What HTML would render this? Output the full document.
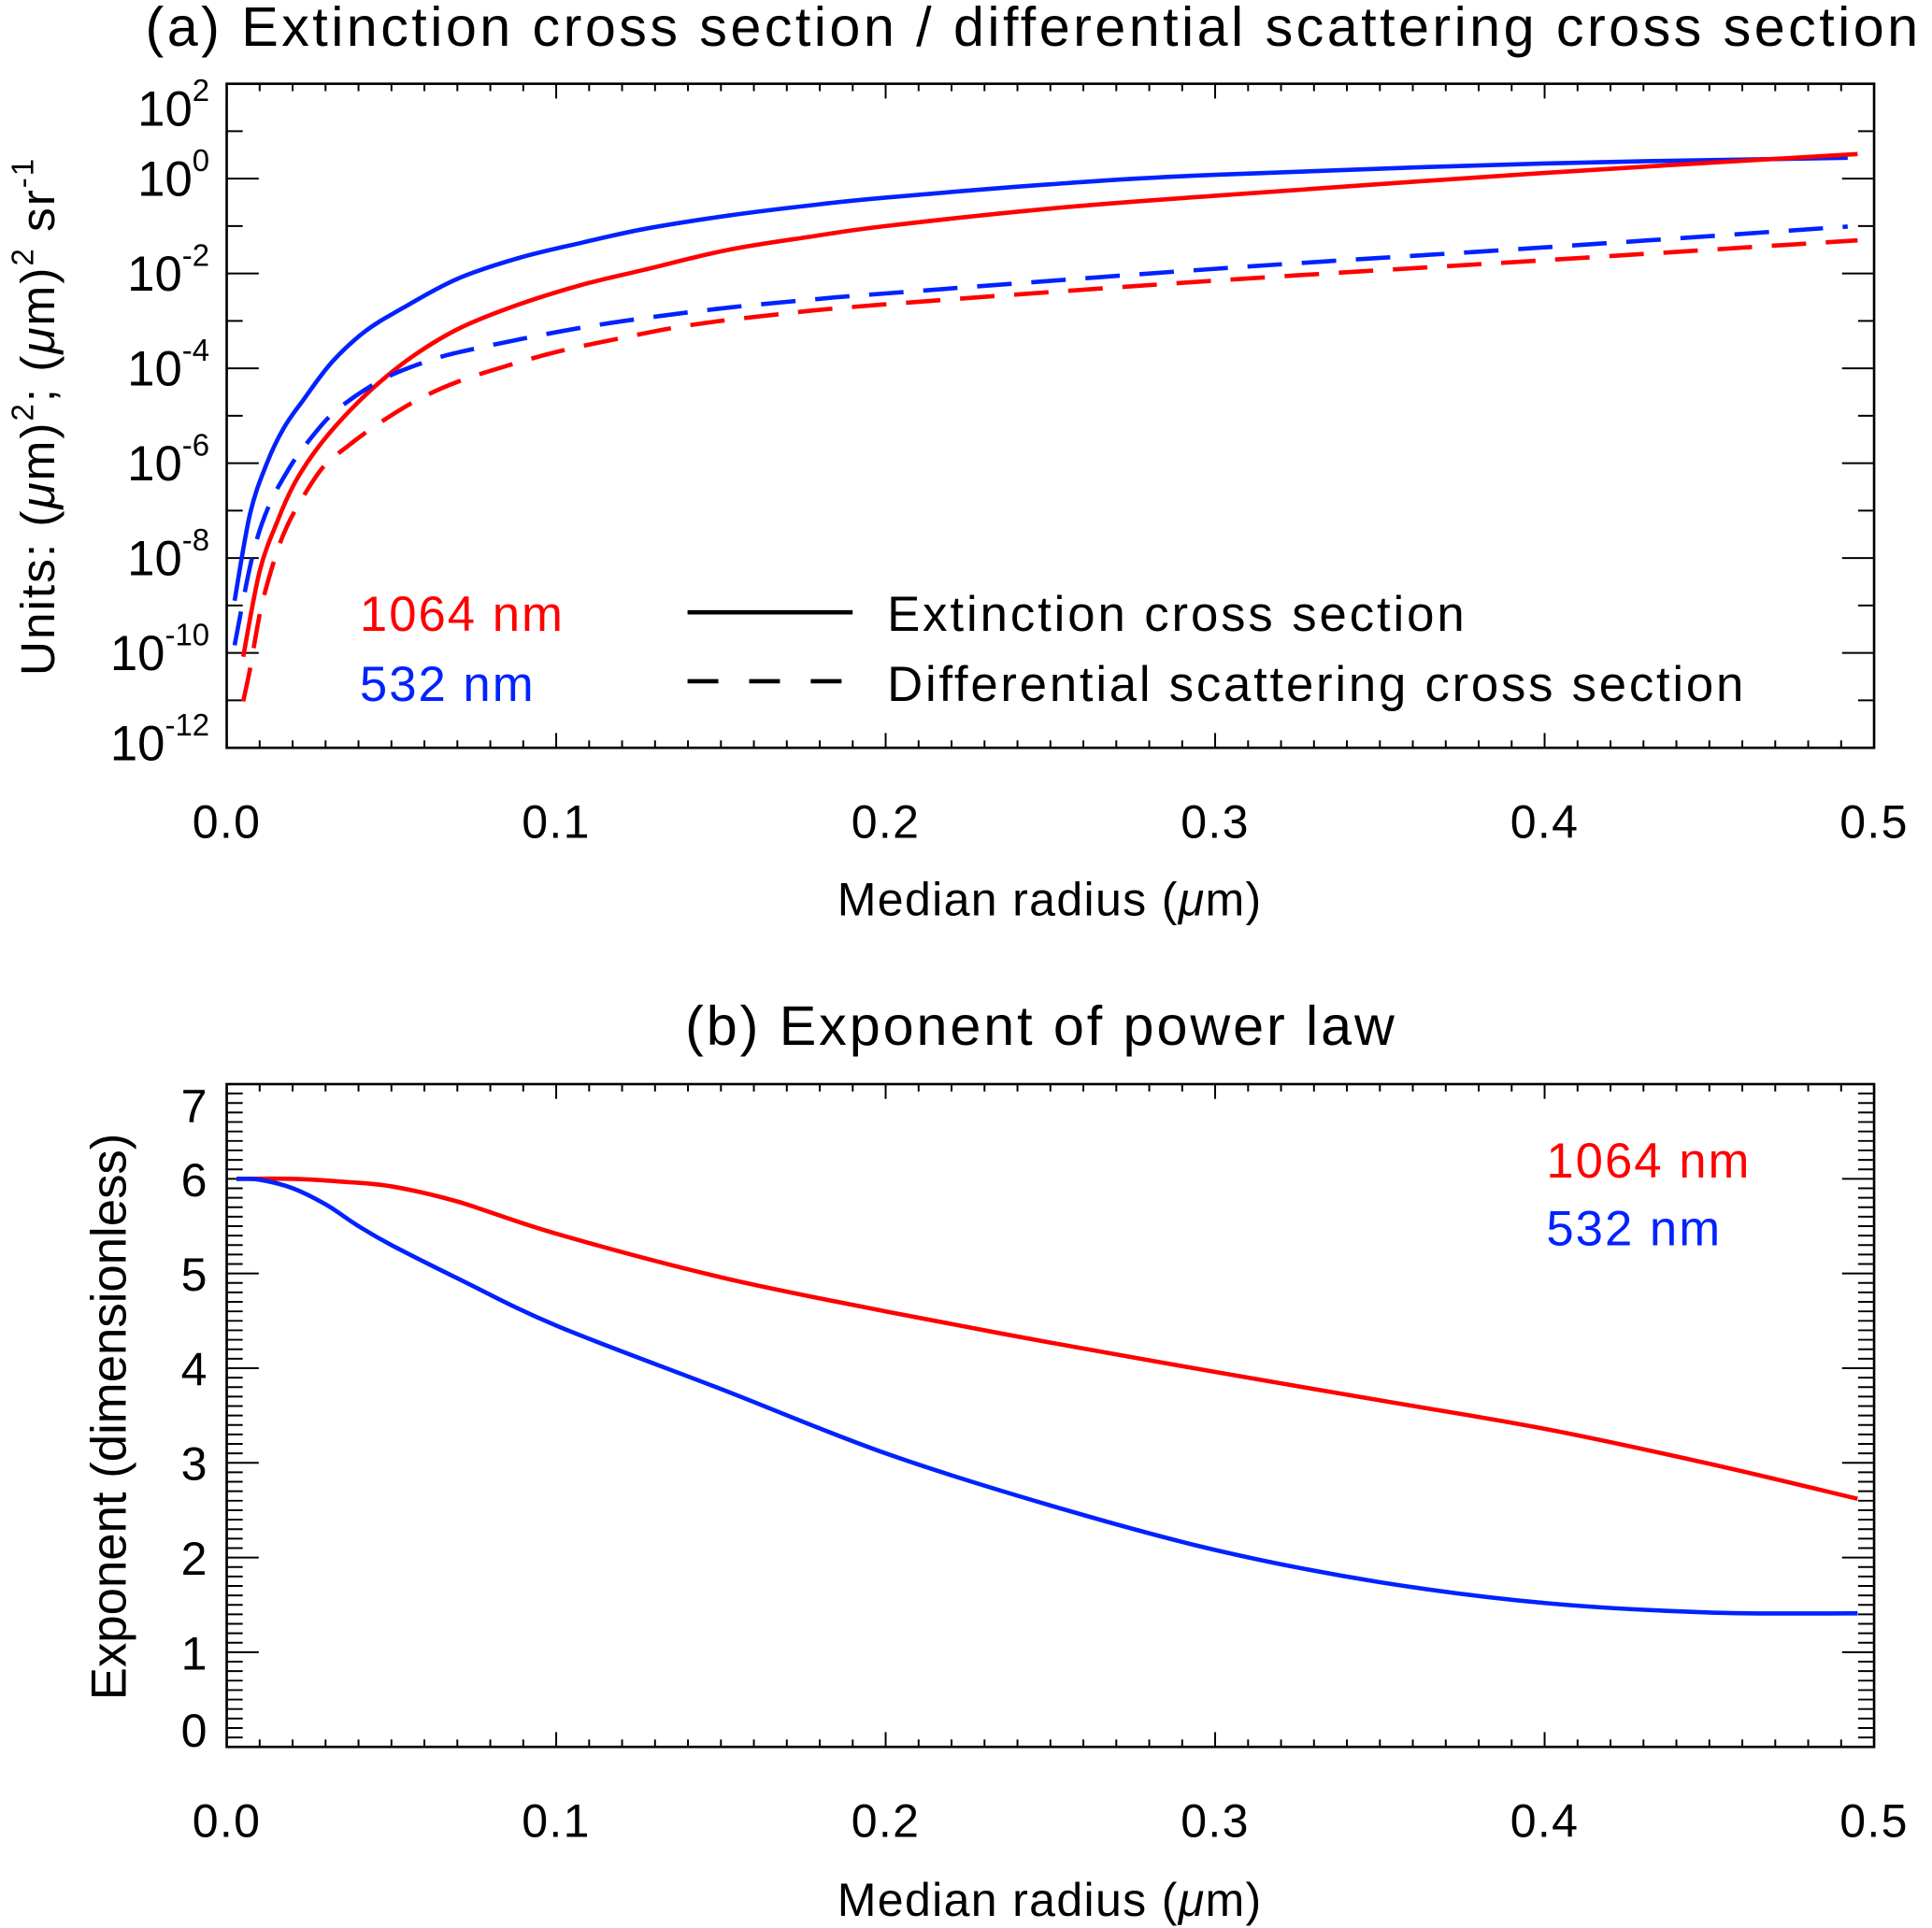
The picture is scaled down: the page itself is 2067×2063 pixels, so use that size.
<!DOCTYPE html>
<html><head><meta charset="utf-8"><style>
html,body{margin:0;padding:0;background:#fff;}
svg{display:block;font-family:"Liberation Sans",Arial,sans-serif;}
</style></head><body>
<svg id="fig" xmlns="http://www.w3.org/2000/svg" width="2067" height="2063" viewBox="0 0 1568 1565" preserveAspectRatio="none">
<text x="118" y="37" font-size="45" letter-spacing="2.6">(a) Extinction cross section / differential scattering cross section</text>
<text x="845" y="848" font-size="45" letter-spacing="2.2" text-anchor="middle">(b) Exponent of power law</text>
<text x="852" y="743" font-size="38" letter-spacing="1" text-anchor="middle">Median radius (<tspan font-style="italic">μ</tspan>m)</text>
<text x="852" y="1555" font-size="38" letter-spacing="1" text-anchor="middle">Median radius (<tspan font-style="italic">μ</tspan>m)</text>
<text transform="translate(44,338) rotate(-90)" font-size="39" letter-spacing="1.5" text-anchor="middle">Units: (<tspan font-style="italic">μ</tspan>m)<tspan font-size="25" dy="-17">2</tspan><tspan dy="17">;  (</tspan><tspan font-style="italic">μ</tspan>m)<tspan font-size="25" dy="-17">2</tspan><tspan dy="17"> sr</tspan><tspan font-size="25" dy="-17">-1</tspan></text>
<text transform="translate(102,1150) rotate(-90)" font-size="40" text-anchor="middle">Exponent (dimensionless)</text>
<g id="ga"></g><g id="gb"></g>
<text x="292" y="512" font-size="40" letter-spacing="1.5" fill="#ff0000">1064 nm</text>
<text x="292" y="569" font-size="40" letter-spacing="1.5" fill="#0022ff">532 nm</text>
<line x1="558" y1="497" x2="692" y2="497" stroke="#000" stroke-width="3.5"/>
<line x1="558" y1="553" x2="692" y2="553" stroke="#000" stroke-width="3.5" stroke-dasharray="25,25"/>
<text x="720" y="512" font-size="40" letter-spacing="2.2">Extinction cross section</text>
<text x="720" y="569" font-size="40" letter-spacing="2.1">Differential scattering cross section</text>
<text x="1255" y="956" font-size="40" letter-spacing="1.5" fill="#ff0000">1064 nm</text>
<text x="1255" y="1011" font-size="40" letter-spacing="1.5" fill="#0022ff">532 nm</text>
</svg>
<script>
const xTickLabels=["0.0","0.1","0.2","0.3","0.4","0.5"];
const xTickVals=[0,0.1,0.2,0.3,0.4,0.5];
const aYTickExps=[2,0,-2,-4,-6,-8,-10,-12];
const bYTickVals=[0,1,2,3,4,5,6,7];
// panel a (log10 values)
const blueExtX=[0.0024,0.0071,0.0122,0.0173,0.023,0.0318,0.042,0.0534,0.0698,0.0888,0.1078,0.1268,0.1522,0.1775,0.2,0.25,0.3,0.4,0.492];
const blueExtY=[-8.9,-7.06,-6.0,-5.26,-4.69,-3.88,-3.22,-2.73,-2.12,-1.67,-1.35,-1.06,-0.78,-0.56,-0.4,-0.12,0.08,0.32,0.44];
const redExtX=[0.005,0.01,0.0154,0.0204,0.0268,0.0356,0.0458,0.0572,0.0711,0.0888,0.1078,0.1268,0.1522,0.1775,0.2,0.25,0.3,0.4,0.495];
const redExtY=[-10.08,-8.28,-7.22,-6.45,-5.75,-5.02,-4.33,-3.71,-3.14,-2.65,-2.24,-1.92,-1.5,-1.22,-1.0,-0.63,-0.36,0.12,0.52];
const blueDifX=[0.0024,0.0078,0.0128,0.0192,0.0242,0.0306,0.0369,0.0458,0.0534,0.0635,0.0711,0.0888,0.1078,0.1268,0.1522,0.1775,0.2,0.3,0.4,0.492];
const blueDifY=[-9.84,-7.96,-6.9,-6.08,-5.59,-5.06,-4.69,-4.29,-4.04,-3.79,-3.65,-3.39,-3.14,-2.94,-2.72,-2.55,-2.42,-1.9,-1.45,-1.01];
const redDifX=[0.005,0.0071,0.0103,0.0141,0.0179,0.023,0.0293,0.0369,0.0458,0.0572,0.0698,0.0863,0.1015,0.1205,0.1395,0.1648,0.2,0.3,0.4,0.495];
const redDifY=[-11.02,-10.33,-9.1,-8.12,-7.39,-6.73,-6.08,-5.63,-5.18,-4.69,-4.29,-3.92,-3.63,-3.35,-3.1,-2.88,-2.65,-2.15,-1.72,-1.3];
// panel b
const redBX=[0.003,0.02,0.035,0.05,0.07,0.1,0.15,0.2,0.25,0.3,0.35,0.4,0.45,0.495];
const redExp=[6.0,6.0,5.97,5.92,5.76,5.42,4.96,4.6,4.27,3.96,3.66,3.36,2.99,2.62];
const blueBX=[0.003,0.01,0.02,0.03,0.04,0.05,0.07,0.1,0.15,0.2,0.25,0.3,0.35,0.4,0.45,0.495];
const blueExp=[6.0,5.99,5.9,5.73,5.5,5.3,4.95,4.45,3.78,3.1,2.55,2.08,1.74,1.52,1.42,1.41];

const NS="http://www.w3.org/2000/svg";
const L=184,R=1521;
const sx=v=>L+(v-0)/(0.5)*(R-L);
const aT=68,aB=607,bT=880,bB=1418;
const syA=v=>aT+(2-v)/14*(aB-aT);
const syB=v=>bT+(7-v)/7*(bB-bT);
function mk(tag,attrs,parent){const e=document.createElementNS(NS,tag);for(const k in attrs)e.setAttribute(k,attrs[k]);parent.appendChild(e);return e;}
function panel(g,T,B,name){
  const r=mk('rect',{x:L,y:T,width:R-L,height:B-T,fill:'none',stroke:'#000','stroke-width':2},g);
  
  
  for(let i=0;i<=50;i++){const x=sx(i*0.01);const len=(i%10===0)?12:6;
    const t1=mk('line',{x1:x,y1:B,x2:x,y2:B-len,stroke:'#000','stroke-width':1.5},g);
    
    
    const t2=mk('line',{x1:x,y1:T,x2:x,y2:T+len,stroke:'#000','stroke-width':1.5},g);
    
    }
  xTickVals.forEach((v,i)=>{const t=mk('text',{x:sx(v),y:B+73,'font-size':38,'letter-spacing':1,'text-anchor':'middle'},g);t.textContent=xTickLabels[i];
    
    });
}
function line(g,xs,ys,sy,color,dash,name){
  const P=xs.map((x,i)=>[sx(x),sy(ys[i])]);
  let d='M'+P[0][0].toFixed(1)+','+P[0][1].toFixed(1);
  for(let i=0;i<P.length-1;i++){
    const p0=P[Math.max(0,i-1)],p1=P[i],p2=P[i+1],p3=P[Math.min(P.length-1,i+2)];
    const c1=[p1[0]+(p2[0]-p0[0])/6,p1[1]+(p2[1]-p0[1])/6];
    const c2=[p2[0]-(p3[0]-p1[0])/6,p2[1]-(p3[1]-p1[1])/6];
    d+='C'+c1[0].toFixed(1)+','+c1[1].toFixed(1)+' '+c2[0].toFixed(1)+','+c2[1].toFixed(1)+' '+p2[0].toFixed(1)+','+p2[1].toFixed(1);
  }
  const p=mk('path',{d:d,fill:'none',stroke:color,'stroke-width':3.5,'stroke-linejoin':'round'},g);
  if(dash)p.setAttribute('stroke-dasharray',dash);
  
  
}
const ga=document.getElementById('ga'),gb=document.getElementById('gb');
panel(ga,aT,aB,'panel-a');panel(gb,bT,bB,'panel-b');
for(let e=-12;e<=2;e++){const y=syA(e);const len=(e%2===0)?26:13;
  const t=mk('line',{x1:L,y1:y,x2:L+len,y2:y,stroke:'#000','stroke-width':1.5},ga);
  
  
  const t2=mk('line',{x1:R,y1:y,x2:R-len,y2:y,stroke:'#000','stroke-width':1.5},ga);
  
  }
aYTickExps.forEach(e=>{let y=syA(e)+14;if(e===2)y+=20;if(e===-12)y-=4;
  const t=mk('text',{x:170,y:y,'font-size':40,'text-anchor':'end'},ga);
  
  
  const b=mk('tspan',{},t);b.textContent='10';
  const s=mk('tspan',{'font-size':25,dy:-20},t);s.textContent=String(e);});
for(let i=0;i<=70;i++){const v=i/10;const y=syB(v);const len=(i%10===0)?26:13;
  const t=mk('line',{x1:L,y1:y,x2:L+len,y2:y,stroke:'#000','stroke-width':1.5},gb);
  
  
  const t2=mk('line',{x1:R,y1:y,x2:R-len,y2:y,stroke:'#000','stroke-width':1.5},gb);
  
  }
bYTickVals.forEach(v=>{let y=syB(v)+14;if(v===7)y+=17;if(v===0)y-=14;
  const t=mk('text',{x:168,y:y,'font-size':38,'text-anchor':'end'},gb);t.textContent=String(v);
  
  });
line(ga,blueExtX,blueExtY,syA,'#0022ff',null,'line-532-extinction');
line(ga,redExtX,redExtY,syA,'#ff0000',null,'line-1064-extinction');
line(ga,blueDifX,blueDifY,syA,'#0022ff','28,16','line-532-differential');
line(ga,redDifX,redDifY,syA,'#ff0000','28,16','line-1064-differential');
line(gb,redBX,redExp,syB,'#ff0000',null,'line-1064-exponent');
line(gb,blueBX,blueExp,syB,'#0022ff',null,'line-532-exponent');
</script>
</body></html>
